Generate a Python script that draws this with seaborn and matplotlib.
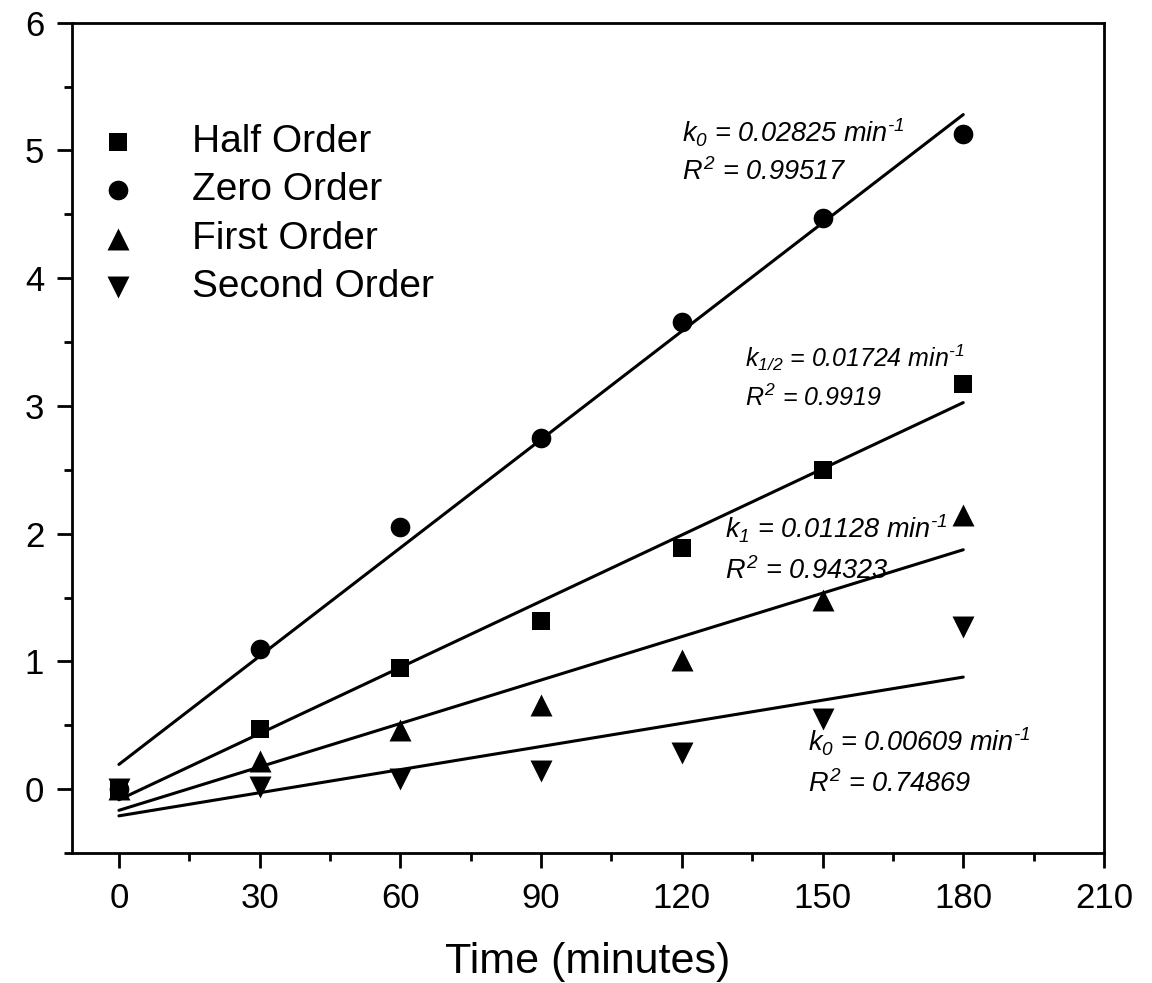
import numpy as np
import pandas as pd
import matplotlib
matplotlib.use("Agg")
import matplotlib.pyplot as plt
from matplotlib.ticker import MultipleLocator
import seaborn as sns

# ---- data ----
time_min = [0, 30, 60, 90, 120, 150, 180]
half_order = [0.0, 0.47, 0.95, 1.32, 1.89, 2.50, 3.17]
zero_order = [0.0, 1.10, 2.05, 2.75, 3.66, 4.47, 5.13]
first_order = [0.0, 0.22, 0.46, 0.66, 1.01, 1.48, 2.15]
second_order = [0.0, 0.02, 0.08, 0.14, 0.28, 0.55, 1.27]
series_names = ["Half Order", "Zero Order", "First Order", "Second Order"]
annotations = [
    ("$k_0$ = 0.02825 min$^{\u20101}$", "$R^2$ = 0.99517", 120.0, 5.14, 4.83),
    ("$k_{1/2}$ = 0.01724 min$^{\u20101}$", "$R^2$ = 0.9919", 133.5, 3.38, 3.06),
    ("$k_1$ = 0.01128 min$^{\u20101}$", "$R^2$ = 0.94323", 129.3, 2.04, 1.71),
    ("$k_0$ = 0.00609 min$^{\u20101}$", "$R^2$ = 0.74869", 146.8, 0.37, 0.04),
]

sns.set_style("ticks")
plt.rcParams["font.family"] = ["Liberation Sans", "DejaVu Sans"]
plt.rcParams["mathtext.fontset"] = "custom"
plt.rcParams["mathtext.rm"] = "Liberation Sans:italic"
plt.rcParams["mathtext.it"] = "Liberation Sans:italic"
plt.rcParams["mathtext.bf"] = "Liberation Sans:bold:italic"
for key in ["text.color", "axes.labelcolor", "xtick.color", "ytick.color", "axes.edgecolor"]:
    plt.rcParams[key] = "black"

values = [half_order, zero_order, first_order, second_order]
df = pd.DataFrame({
    "Time": np.tile(time_min, len(series_names)),
    "Value": np.concatenate(values),
    "Order": np.repeat(series_names, len(time_min)),
})

markers = {"Half Order": "s", "Zero Order": "o", "First Order": "^", "Second Order": "v"}
msizes = {"Half Order": 160, "Zero Order": 200, "First Order": 250, "Second Order": 250}

fig = plt.figure(figsize=(11.52, 9.83), dpi=100)
ax = fig.add_axes([0.0625, 0.1322, 0.8958, 0.8447])

for name in series_names:
    sub = df[df["Order"] == name]
    sns.regplot(data=sub, x="Time", y="Value", scatter=False, ci=None, truncate=True,
                color="black", line_kws={"lw": 2.2}, ax=ax)
for name in series_names:
    sub = df[df["Order"] == name]
    sns.scatterplot(data=sub, x="Time", y="Value", marker=markers[name], s=msizes[name],
                    color="black", linewidth=0, label=name, ax=ax, zorder=3)

ax.set_xlim(-10, 210)
ax.set_ylim(-0.5, 6)
ax.xaxis.set_major_locator(MultipleLocator(30))
ax.xaxis.set_minor_locator(MultipleLocator(15))
ax.yaxis.set_major_locator(MultipleLocator(1))
ax.yaxis.set_minor_locator(MultipleLocator(0.5))
ax.tick_params(which="major", direction="out", length=11, width=2, labelsize=25,
               top=False, right=False, colors="black")
ax.tick_params(axis="x", which="major", pad=10)
ax.tick_params(axis="y", which="major", pad=9)
ax.tick_params(which="minor", direction="out", length=6, width=2, top=False, right=False)
for sp in ax.spines.values():
    sp.set_visible(True)
    sp.set_linewidth(2)
    sp.set_color("black")

ax.set_xlabel("Time (minutes)", fontsize=31, labelpad=19)
ax.set_ylabel("")

for i, (l1, l2, x, y1, y2) in enumerate(annotations):
    fs = 18 if i == 1 else 19.5
    ax.text(x, y1, l1, fontsize=fs, style="italic", ha="left", va="center")
    ax.text(x, y2, l2, fontsize=fs, style="italic", ha="left", va="center")

leg = ax.legend(loc="upper left", bbox_to_anchor=(0.0257, 0.878), frameon=False,
                fontsize=28, handlelength=1.0, handletextpad=1.4, labelspacing=0.32,
                borderpad=0, borderaxespad=0, markerscale=1.0)

fig.savefig("out.png", dpi=100)
